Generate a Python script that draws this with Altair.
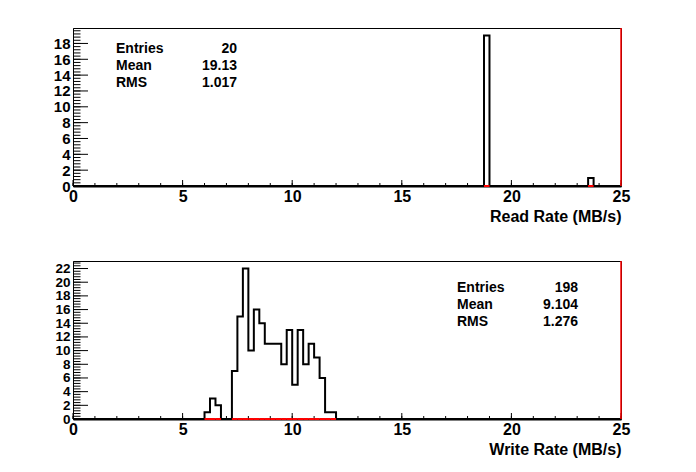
import altair as alt
import pandas as pd
import numpy as np

# ---------------- data ----------------
BIN_WIDTH = 0.25
X_MIN, X_MAX = 0.0, 25.0

read_bin_low = [18.75, 23.5]
read_counts = [19, 1]
read_stat_names = ["Entries", "Mean", "RMS"]
read_stat_values = ["20", "19.13", "1.017"]

write_bin_low = [6.0, 6.25, 6.5, 7.25, 7.5, 7.75, 8.0, 8.25, 8.5, 8.75, 9.0,
                 9.25, 9.5, 9.75, 10.0, 10.25, 10.5, 10.75, 11.0, 11.25, 11.5, 11.75]
write_counts = [1, 3, 2, 7, 15, 22, 10, 16, 14, 11, 11,
                11, 8, 13, 5, 13, 8, 11, 9, 6, 1, 1]
write_stat_names = ["Entries", "Mean", "RMS"]
write_stat_values = ["198", "9.104", "1.276"]

x_major = [0, 5, 10, 15, 20, 25]
x_minor = list(range(0, 26))
read_y_major = [0, 2, 4, 6, 8, 10, 12, 14, 16, 18]
write_y_major = [0, 2, 4, 6, 8, 10, 12, 14, 16, 18, 20, 22]
read_y_max = 19.95
write_y_max = 23.1

# ---------------- style ----------------
W, H = 548, 158
FONT = "Liberation Sans"


def panel(bin_low, counts, y_max, y_major, title, names, values, sx, svx, sy, ylab_size):
    n_bins = int(round((X_MAX - X_MIN) / BIN_WIDTH))
    full = np.zeros(n_bins)
    for lo, c in zip(bin_low, counts):
        full[int(round((lo - X_MIN) / BIN_WIDTH))] = c
    edges = X_MIN + BIN_WIDTH * np.arange(n_bins + 1)
    step_df = pd.DataFrame({"x": edges, "y": np.append(full, full[-1])})
    nz_df = pd.DataFrame({"lo": bin_low, "hi": [b + BIN_WIDTH for b in bin_low]})

    y_minor = list(np.arange(0, y_max, 0.4))

    xs = alt.Scale(domain=[X_MIN, X_MAX], nice=False, zero=False)
    ys = alt.Scale(domain=[0, y_max], nice=False, zero=False)

    xaxis = alt.Axis(values=x_major, ticks=False, grid=False, domainColor="black",
                     domainWidth=2, labelFont=FONT, labelFontSize=16,
                     labelFontWeight="bold", labelColor="black", labelPadding=2,
                     labelFlush=False, labelOverlap=False, title=title,
                     titleAnchor="end", titleFont=FONT, titleFontSize=16,
                     titleFontWeight="bold", titleColor="black", titlePadding=4)
    yaxis = alt.Axis(values=y_major, ticks=False, grid=False, domainColor="black",
                     domainWidth=1, labelFont=FONT, labelFontSize=ylab_size,
                     labelFontWeight="bold", labelColor="black", labelPadding=3,
                     labelFlush=False, labelOverlap=False, title=None)

    def X(f):
        return alt.X(f, scale=xs, axis=xaxis, title=title)

    def Y(f):
        return alt.Y(f, scale=ys, axis=yaxis, title=None)

    line = alt.Chart(step_df).mark_line(interpolate="step-after", color="black",
                                        strokeWidth=2).encode(
        x=X("x:Q"), y=Y("y:Q"),
    )
    red_base = alt.Chart(nz_df).mark_rule(color="red", strokeWidth=2).encode(
        x=X("lo:Q"), x2="hi:Q", y=alt.Y(datum=0, scale=ys, axis=yaxis, title=None)
    )
    red_edge = alt.Chart(pd.DataFrame({"v": [X_MAX]})).mark_rule(
        color="red", strokeWidth=1.5).encode(
        x=X("v:Q"), y=alt.value(0), y2=alt.value(H)
    )
    xmaj = alt.Chart(pd.DataFrame({"v": x_major})).mark_rule(color="black").encode(
        x=X("v:Q"), y=alt.value(H), y2=alt.value(H - 6))
    xmin = alt.Chart(pd.DataFrame({"v": x_minor})).mark_rule(color="black").encode(
        x=X("v:Q"), y=alt.value(H), y2=alt.value(H - 3))
    ymaj = alt.Chart(pd.DataFrame({"v": y_major})).mark_rule(color="black").encode(
        y=Y("v:Q"), x=alt.value(0), x2=alt.value(15))
    ymin = alt.Chart(pd.DataFrame({"v": y_minor})).mark_rule(color="black").encode(
        y=Y("v:Q"), x=alt.value(0), x2=alt.value(7.5))

    sdf = pd.DataFrame({"name": names, "value": values, "py": sy})
    tname = alt.Chart(sdf).mark_text(align="left", baseline="middle", font=FONT,
                                     fontSize=14, fontWeight="bold", color="black").encode(
        x=alt.value(sx), y=alt.Y("py:Q", scale=None), text="name:N")
    tval = alt.Chart(sdf).mark_text(align="right", baseline="middle", font=FONT,
                                    fontSize=14, fontWeight="bold", color="black").encode(
        x=alt.value(svx), y=alt.Y("py:Q", scale=None), text="value:N")

    return alt.layer(line, xmaj, xmin, ymaj, ymin, red_base, red_edge, tname, tval).properties(
        width=W, height=H)


top = panel(read_bin_low, read_counts, read_y_max, read_y_major, "Read Rate (MB/s)",
            read_stat_names, read_stat_values, 43, 164, [21, 38, 55], 15)
bottom = panel(write_bin_low, write_counts, write_y_max, write_y_major, "Write Rate (MB/s)",
               write_stat_names, write_stat_values, 384, 505, [27, 44, 61], 13.5)

chart = alt.vconcat(top, bottom, spacing=34).properties(
    padding={"left": 44, "top": 18, "right": 5, "bottom": 5},
    background="white",
).configure_view(stroke="black", strokeWidth=1)

chart.save("out.html", embed_options={"renderer": "svg", "actions": False})
